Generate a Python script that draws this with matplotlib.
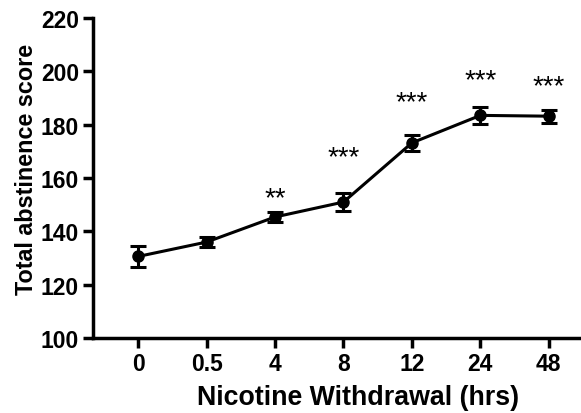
import numpy as np
import matplotlib.pyplot as plt

plt.rcParams['font.family'] = ['Liberation Sans', 'DejaVu Sans']

# data
hours = ['0', '0.5', '4', '8', '12', '24', '48']
score = [130.6, 136.0, 145.4, 151.0, 173.2, 183.5, 183.2]
sem = [4.0, 2.0, 1.9, 3.4, 2.9, 3.3, 2.5]
stars = ['', '', '**', '***', '***', '***', '***']
star_y = [0, 0, 152.5, 168.0, 188.5, 196.7, 194.5]

fig = plt.figure(figsize=(5.81, 4.14), dpi=100)
ax = fig.add_axes([0.160, 0.181, 0.84, 0.773])

x = np.arange(len(hours))
ax.errorbar(x, score, yerr=sem, color='black', lw=2.2, marker='o', ms=8,
            capsize=6, capthick=2.2, elinewidth=2.2)

for xi, s, sy in zip(x, stars, star_y):
    if s:
        ax.text(xi, sy, s, ha='center', va='center', fontsize=20)

ax.set_xlim(-0.66, 6.47)
ax.set_ylim(100, 220)
ax.set_xticks(x)
ax.set_xticklabels(hours)
ax.set_yticks(np.arange(100, 221, 20))

for sp in ['top', 'right']:
    ax.spines[sp].set_visible(False)
for sp in ['left', 'bottom']:
    ax.spines[sp].set_linewidth(2.5)

ax.tick_params(width=2.5, length=7, labelsize=16.5, pad=3)
for lab in ax.get_xticklabels() + ax.get_yticklabels():
    lab.set_fontweight('bold')

ax.set_xlabel('Nicotine Withdrawal (hrs)', fontsize=19.3, fontweight='bold',
              va='center')
ax.set_ylabel('Total abstinence score', fontsize=16.8, fontweight='bold',
              va='center')
ax.xaxis.set_label_coords(0.543, -0.183)
ax.yaxis.set_label_coords(-0.137, 0.53)

fig.savefig('out.png', dpi=100)
